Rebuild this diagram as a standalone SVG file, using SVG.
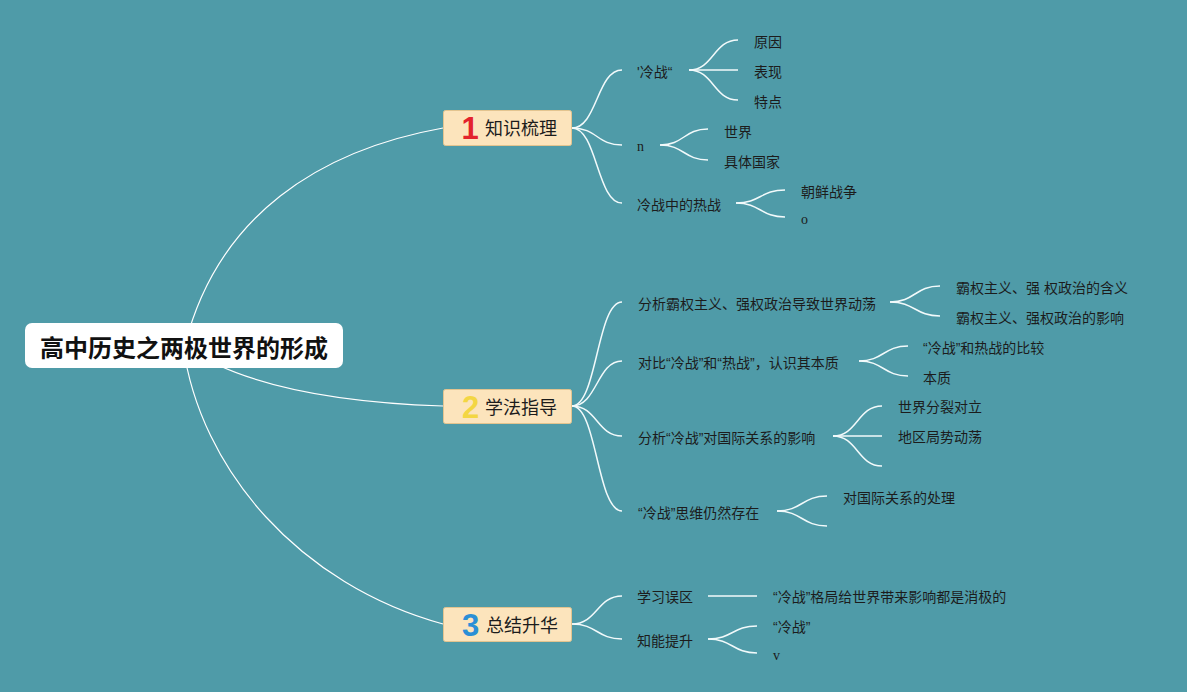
<svg xmlns="http://www.w3.org/2000/svg" width="1187" height="692" viewBox="0 0 1187 692">
<style>
.c{fill:none;stroke:#ffffff;stroke-width:1.2}
.s{fill:none;stroke:#f2fafb;stroke-width:1.5}
.t{font-family:"Liberation Sans","Noto Sans CJK SC",sans-serif;font-size:14px;fill:#1c1c1c}
.lat{font-family:"Liberation Serif","Noto Sans CJK SC",serif;font-size:14px;fill:#1c1c1c}
.box{fill:#FCE4BC;stroke:#E3C48F;stroke-width:1}
.bt{font-family:"Liberation Sans","Noto Sans CJK SC",sans-serif;font-size:18px;fill:#1c1c1c}
.num{font-family:"Liberation Sans","DejaVu Sans",sans-serif;font-size:31px;font-weight:bold;text-anchor:middle}
</style>
<rect x="0" y="0" width="1187" height="692" fill="#4F9BA8"/>
<g id="connectors">
<path class="c" d="M185 345 C218 215 320 150 443 128"/>
<path class="c" d="M183 345 Q260 400 443 406"/>
<path class="c" d="M183 345 C200 470 300 585 443 624"/>
<path class="s" d="M572 128 C597 128 597 70 622 70"/>
<path class="s" d="M572 128 C597 128 597 145 622 145"/>
<path class="s" d="M572 128 C597 128 597 203 622 203"/>
<path class="s" d="M689 70 C713.5 70 713.5 40 738 40"/>
<path class="s" d="M689 70 L738 70"/>
<path class="s" d="M689 70 C713.5 70 713.5 100 738 100"/>
<path class="s" d="M660 145 C684 145 684 129 708 129"/>
<path class="s" d="M660 145 C684 145 684 160 708 160"/>
<path class="s" d="M736 203 C760.5 203 760.5 190 785 190"/>
<path class="s" d="M736 203 C760.5 203 760.5 217 785 217"/>
<path class="s" d="M572 406 C597 406 597 302 622 302"/>
<path class="s" d="M572 406 C597 406 597 361 622 361"/>
<path class="s" d="M572 406 C597 406 597 436 622 436"/>
<path class="s" d="M572 406 C597 406 597 511 622 511"/>
<path class="s" d="M890 302 C915 302 915 286 940 286"/>
<path class="s" d="M890 302 C915 302 915 316 940 316"/>
<path class="s" d="M859 361 C883.5 361 883.5 346 908 346"/>
<path class="s" d="M859 361 C883.5 361 883.5 376 908 376"/>
<path class="s" d="M833 436 C857.5 436 857.5 406 882 406"/>
<path class="s" d="M833 436 L882 436"/>
<path class="s" d="M833 436 C857.5 436 857.5 466 882 466"/>
<path class="s" d="M777 511 C802 511 802 496 827 496"/>
<path class="s" d="M777 511 C802 511 802 526 827 526"/>
<path class="s" d="M572 624 C597 624 597 596 622 596"/>
<path class="s" d="M572 624 C597 624 597 639 622 639"/>
<path class="s" d="M708 596 L757 596"/>
<path class="s" d="M708 639 C732.5 639 732.5 626 757 626"/>
<path class="s" d="M708 639 C732.5 639 732.5 653 757 653"/>
</g>
<g id="root">
<rect x="25" y="323" width="318" height="45" rx="7" fill="#ffffff"/>
<text x="184" y="356.5" text-anchor="middle" font-family="Liberation Sans, Noto Sans CJK SC, sans-serif" font-size="24" font-weight="bold" fill="#111">高中历史之两极世界的形成</text>
</g>
<g id="b1">
<rect class="box" x="443.5" y="110.5" width="128" height="35" rx="2"/>
<text class="num" x="470" y="138.5" fill="#E3232C">1</text>
<text class="bt" x="485" y="135">知识梳理</text>
</g>
<g id="b2">
<rect class="box" x="443.5" y="389.5" width="128" height="34" rx="2"/>
<text class="num" x="470.5" y="417.5" fill="#F3D643">2</text>
<text class="bt" x="485" y="413.5">学法指导</text>
</g>
<g id="b3">
<rect class="box" x="443.5" y="607.5" width="128" height="34" rx="2"/>
<text class="num" x="470.5" y="635.5" fill="#2B8FD6">3</text>
<text class="bt" x="486" y="631.5">总结升华</text>
</g>
<g id="n1a"><text class="t" x="637" y="77">'冷战“</text></g>
<g id="n1a1"><text class="t" x="754" y="47">原因</text></g>
<g id="n1a2"><text class="t" x="754" y="77">表现</text></g>
<g id="n1a3"><text class="t" x="754" y="106.5">特点</text></g>
<g id="n1b"><text class="lat" x="637" y="150.5">n</text></g>
<g id="n1b1"><text class="t" x="724" y="136.5">世界</text></g>
<g id="n1b2"><text class="t" x="724" y="167">具体国家</text></g>
<g id="n1c"><text class="t" x="637" y="209.5">冷战中的热战</text></g>
<g id="n1c1"><text class="t" x="801" y="196.5">朝鲜战争</text></g>
<g id="n1c2"><text class="lat" x="801" y="223.5">o</text></g>
<g id="n2a"><text class="t" x="638" y="308.5">分析霸权主义、强权政治导致世界动荡</text></g>
<g id="n2a1"><text class="t" x="956" y="293">霸权主义、强 权政治的含义</text></g>
<g id="n2a2"><text class="t" x="956" y="323">霸权主义、强权政治的影响</text></g>
<g id="n2b"><text class="t" x="638" y="367.5">对比“冷战”和“热战”，认识其本质</text></g>
<g id="n2b1"><text class="t" x="923" y="353">“冷战”和热战的比较</text></g>
<g id="n2b2"><text class="t" x="923" y="383">本质</text></g>
<g id="n2c"><text class="t" x="638" y="442.5">分析“冷战”对国际关系的影响</text></g>
<g id="n2c1"><text class="t" x="898" y="412">世界分裂对立</text></g>
<g id="n2c2"><text class="t" x="898" y="442">地区局势动荡</text></g>
<g id="n2d"><text class="t" x="638" y="518">“冷战”思维仍然存在</text></g>
<g id="n2d1"><text class="t" x="843" y="503">对国际关系的处理</text></g>
<g id="n3a"><text class="t" x="637" y="602">学习误区</text></g>
<g id="n3a1"><text class="t" x="773" y="602">“冷战”格局给世界带来影响都是消极的</text></g>
<g id="n3b"><text class="t" x="637" y="646">知能提升</text></g>
<g id="n3b1"><text class="t" x="773" y="632">“冷战”</text></g>
<g id="n3b2"><text class="lat" x="773" y="659.5">v</text></g>
</svg>
